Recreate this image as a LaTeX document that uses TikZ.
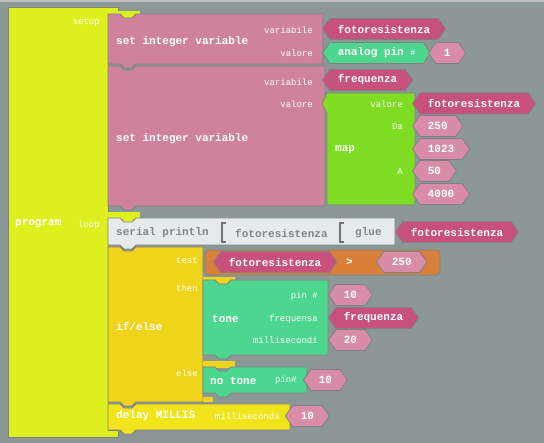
\documentclass[tikz,border=0pt]{standalone}
\usepackage{fontspec}
\setmonofont{Liberation Mono}
\usetikzlibrary{shapes.symbols}
\definecolor{bg}{HTML}{8C9898}
\definecolor{prog}{HTML}{DDF01E}
\definecolor{setpink}{HTML}{CE829C}
\definecolor{varpink}{HTML}{C8507C}
\definecolor{numpink}{HTML}{D98CA8}
\definecolor{pingreen}{HTML}{4CD68E}
\definecolor{mapgreen}{HTML}{7EDC22}
\definecolor{serwhite}{HTML}{E6EAEA}
\definecolor{sertext}{HTML}{7E8888}
\definecolor{ifgold}{HTML}{F0D41C}
\definecolor{delyel}{HTML}{F2E41A}
\definecolor{testorange}{HTML}{D8803A}
% statement block with notch: colour, x1, y1, x2, y2
\newcommand{\stmtblock}[5]{%
  \filldraw[blk,fill=#1] (#2,#3) -- (#2+12,#3) -- (#2+16,#3+4) -- (#2+24,#3+4) -- (#2+28,#3)
    -- (#4,#3) -- (#4,#5) -- (#2+28,#5) -- (#2+24,#5+4) -- (#2+16,#5+4) -- (#2+12,#5) -- (#2,#5) -- cycle;}
\begin{document}
\begin{tikzpicture}[x=1pt,y=-1pt]
    \tikzset{blk/.style={draw=black!50,line width=0.8pt}};
    \tikzset{lbl/.style={text=white,anchor=west,inner sep=0pt,font=\ttfamily\bfseries\fontsize{11}{13}\selectfont}};
    \tikzset{small/.style={text=white,anchor=east,inner sep=0pt,font=\ttfamily\fontsize{9}{11}\selectfont}};
    \tikzset{hex/.style={signal,signal to=east and west,signal pointer angle=110,draw=black!50,line width=0.8pt,
      anchor=west,minimum height=21pt,inner xsep=8pt,inner ysep=0pt,text=white,font=\ttfamily\bfseries\fontsize{11}{13}\selectfont}};
    \fill[bg] (0,0) rectangle (544,443);
    \fill[black!25] (0,0) rectangle (544,2);
    % program
    \filldraw[blk,fill=prog] (8,7) -- (118,7) -- (118,14) -- (108,14) -- (108,430) -- (118,430) -- (118,437) -- (8,437) -- cycle;
    \fill[prog] (108,11) rectangle (140,19);
    \fill[prog] (108,212) rectangle (140,222);
    \node[small] (lSetup) at (100,22) {setup};
    \node[lbl] (lProgram) at (15,224) {program};
    \node[small] (lLoop) at (100,225) {loop};
    % setup
    \stmtblock{setpink}{108}{14}{323}{64}
    \node[lbl] (tSet1) at (116,42) {set integer variable};
    \node[small] (lVar1) at (313,30) {variabile};
    \node[small] (lVal1) at (313,53) {valore};
    \node[hex,fill=varpink] (hFoto1) at (322,29) {fotoresistenza};
    \node[hex,fill=pingreen] (hPin) at (322,53) {analog pin {\fontsize{8}{8}\selectfont\#}};
    \node[hex,fill=numpink] (hOne) at (428,53) {1};
    \stmtblock{setpink}{108}{66}{325}{206}
    \node[lbl] (tSet2) at (116,139) {set integer variable};
    \node[small] (lVar2) at (313,82) {variabile};
    \node[small] (lVal2) at (313,104) {valore};
    \node[hex,fill=varpink] (hFreq1) at (322,80) {frequenza};
    \filldraw[blk,fill=mapgreen] (327,93) -- (415,93) -- (415,205) -- (327,205) -- (327,114) -- (322,103.5) -- cycle;
    \node[lbl] (tMap) at (335,150) {map};
    \node[small] (lVal3) at (403,104) {valore};
    \node[small] (lDa) at (403,127) {Da};
    \node[small] (lA) at (403,172) {A};
    \node[hex,fill=varpink] (hFoto2) at (412,103.5) {fotoresistenza};
    \node[hex,fill=numpink] (hFrom1) at (412,126) {250};
    \node[hex,fill=numpink] (hFrom2) at (412,149) {1023};
    \node[hex,fill=numpink] (hTo1) at (412,171) {50};
    \node[hex,fill=numpink] (hTo2) at (412,194) {4000};
    % loop
    \stmtblock{serwhite}{108}{218}{395}{245}
    \node[lbl,text=sertext] (tSerial) at (116,233) {serial println};
    \draw[black!55,line width=1.2pt] (226,223) -- (222,223) -- (222,242) -- (226,242);
    \node[lbl,text=sertext] (tFoto) at (235,233) {fotoresistenza};
    \draw[black!55,line width=1.2pt] (344,223) -- (340,223) -- (340,242) -- (344,242);
    \node[lbl,text=sertext] (tGlue) at (355,233) {glue};
    \node[hex,fill=varpink] (hFoto3) at (395,232) {fotoresistenza};
    \stmtblock{ifgold}{108}{247}{203}{402}
    \fill[ifgold] (203,277) rectangle (235,284);
    \fill[ifgold] (203,361) rectangle (235,368);
    \fill[ifgold] (203,397) rectangle (213,402);
    \node[lbl] (tIf) at (116,326) {if/else};
    \node[small] (lTest) at (198,261) {test};
    \node[small] (lThen) at (198,288) {then};
    \node[small] (lElse) at (198,373) {else};
    \filldraw[blk,fill=testorange,rounded corners=4pt] (205,250) rectangle (440,275);
    \node[hex,fill=varpink] (hFoto4) at (213,262) {fotoresistenza};
    \node[lbl] (tGt) at (346,262) {>};
    \node[hex,fill=numpink] (hLimit) at (376,262) {250};
    \stmtblock{pingreen}{203}{280}{328}{355}
    \node[lbl] (tTone) at (212,319) {tone};
    \node[small] (lPin1) at (318,296) {pin \#};
    \node[small] (lFreq) at (318,319) {frequensa};
    \node[small] (lMs1) at (318,340) {millisecondi};
    \node[hex,fill=numpink] (hPin1) at (328,295) {10};
    \node[hex,fill=varpink] (hFreq2) at (328,318) {frequenza};
    \node[hex,fill=numpink] (hDur) at (328,340) {20};
    \stmtblock{pingreen}{203}{367}{307}{393}
    \node[lbl] (tNoTone) at (210,381) {no tone};
    \node[small] (lPin2) at (297,380) {pin\#};
    \node[hex,fill=numpink] (hPin2) at (303,380) {10};
    \stmtblock{delyel}{108}{404}{290}{430}
    \node[lbl] (tDelay) at (116,416) {delay MILLIS};
    \node[small] (lMs2) at (280,416) {milliseconds};
    \node[hex,fill=numpink] (hDelay) at (285,416) {10};
\end{tikzpicture}
\end{document}
